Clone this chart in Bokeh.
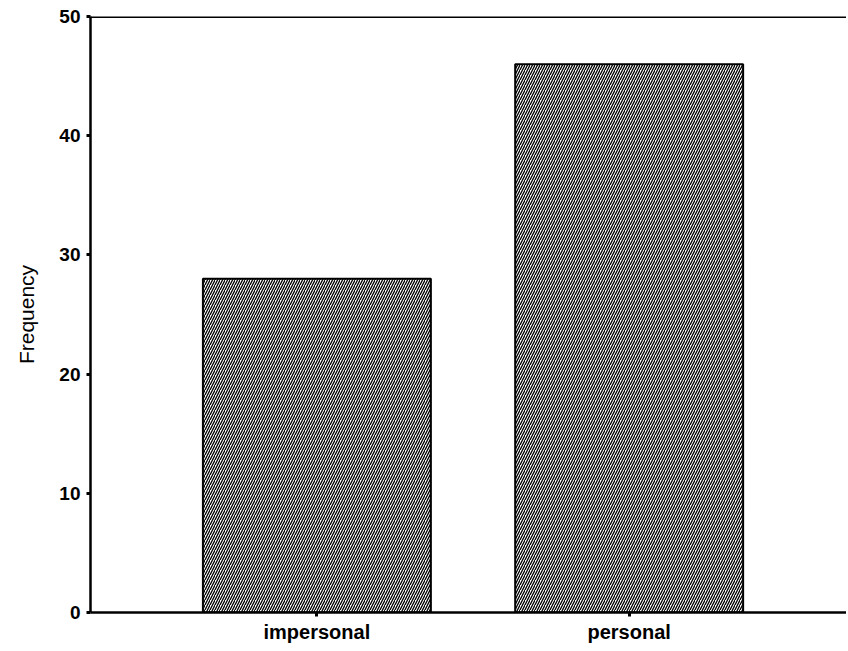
from bokeh.plotting import figure
from bokeh.models import ColumnDataSource, FixedTicker, Span, Range1d
from bokeh.embed import file_html
from bokeh.resources import INLINE

categories = ["impersonal", "personal"]
frequency = [28, 46]
y_ticks = [0, 10, 20, 30, 40, 50]

xpos = list(range(len(categories)))
src = ColumnDataSource(dict(x=xpos, top=frequency))

p = figure(width=846, height=648, output_backend="svg", toolbar_location=None,
           x_range=Range1d(-0.725, 1.696), y_range=Range1d(0, 50),
           min_border_left=90, min_border_top=16, min_border_right=0, min_border_bottom=36)
p.outline_line_color = None
p.grid.grid_line_color = None
p.background_fill_color = "white"

p.vbar(x="x", top="top", bottom=0, width=0.73, source=src,
       fill_color="white", line_color="black", line_width=2,
       hatch_pattern="/", hatch_color="black", hatch_scale=5, hatch_weight=1.3)

p.add_layout(Span(location=50, dimension="width", line_color="black", line_width=3))

font = "Liberation Sans"
p.yaxis.ticker = FixedTicker(ticks=y_ticks)
p.xaxis.ticker = FixedTicker(ticks=xpos)
p.xaxis.major_label_overrides = {i: c for i, c in enumerate(categories)}
p.yaxis.axis_label = "Frequency"
for ax in (p.xaxis, p.yaxis):
    ax.axis_line_width = 2.5
    ax.axis_line_color = "black"
    ax.major_tick_in = 0
    ax.major_tick_out = 4
    ax.major_tick_line_width = 3
    ax.minor_tick_line_color = None
    ax.major_label_text_font = font
    ax.major_label_text_font_style = "bold"
    ax.major_label_text_color = "black"
p.xaxis.major_label_text_font_size = "20px"
p.yaxis.major_label_text_font_size = "19px"
p.xaxis.major_label_standoff = 4
p.yaxis.major_label_standoff = 6
p.yaxis.axis_label_text_font = font
p.yaxis.axis_label_text_font_size = "21px"
p.yaxis.axis_label_text_font_style = "normal"
p.yaxis.axis_label_text_color = "black"
p.yaxis.axis_label_standoff = 18

open("out.html", "w").write(file_html(p, INLINE))
